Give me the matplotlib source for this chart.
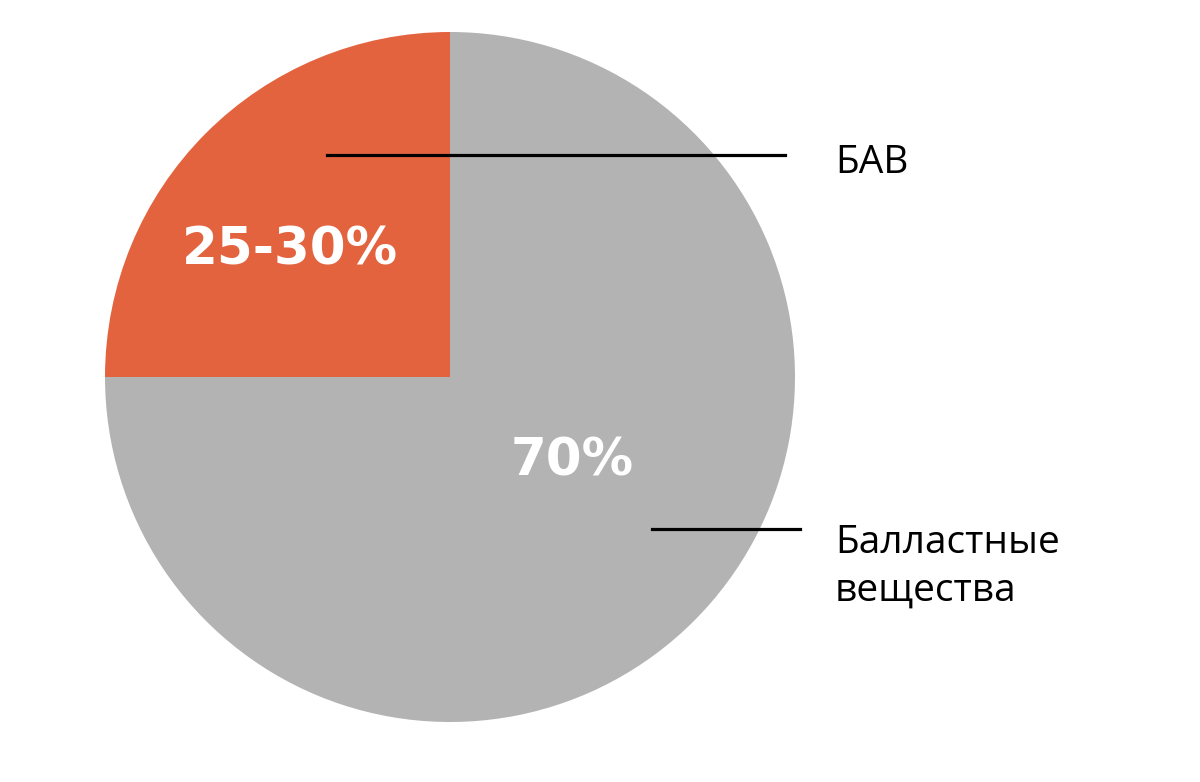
import matplotlib
matplotlib.use("Agg")
import matplotlib.pyplot as plt

labels = ["БАВ", "Балластные\nвещества"]
values = [25, 75]
pct_labels = ["25-30%", "70%"]
colors = ["#E4633F", "#B3B3B3"]

fig = plt.figure(figsize=(12, 7.82), dpi=100)
# axes box so the pie spans px 105..795 horizontally, 32..722 vertically
ax = fig.add_axes([105 / 1200, 60 / 782, 690 / 1200, 690 / 782])
ax.pie(values, colors=colors, startangle=90, counterclock=True, radius=1,
       wedgeprops=dict(linewidth=0))
ax.set_xlim(-1, 1)
ax.set_ylim(-1, 1)
ax.set_aspect("equal")
ax.axis("off")

# percentage labels inside the slices
ax.text(-0.464, 0.368, pct_labels[0], color="white", fontsize=37,
        fontweight="bold", family="DejaVu Sans", ha="center", va="center")
ax.text(0.354, -0.246, pct_labels[1], color="white", fontsize=37,
        fontweight="bold", family="DejaVu Sans", ha="center", va="center")

# leader lines + side labels
ax.plot([-0.357, 0.971], [0.643, 0.643], color="black", lw=2.3, clip_on=False)
ax.plot([0.586, 1.014], [-0.441, -0.441], color="black", lw=2.3, clip_on=False)
ax.text(1.116, 0.62, labels[0], fontsize=28, family="Open Sans",
        ha="left", va="center", clip_on=False)
ax.text(1.116, -0.55, labels[1], fontsize=28, family="Open Sans",
        ha="left", va="center", linespacing=1.35, clip_on=False)

fig.savefig("out.png", dpi=100, facecolor="white")
